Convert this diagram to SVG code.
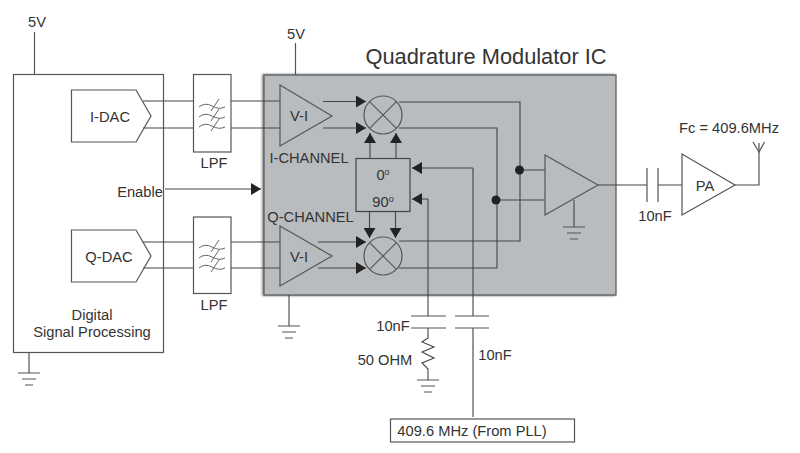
<svg xmlns="http://www.w3.org/2000/svg" width="800" height="453" viewBox="0 0 800 453">
<style>
text{font-family:"Liberation Sans",Arial,sans-serif;font-size:14.700px;fill:#333;text-anchor:middle}
.s{fill:none;stroke:#555;stroke-width:1.2}
.w{fill:#fff;stroke:#555;stroke-width:1.2}
.t{fill:#b9bcbe;stroke:#555;stroke-width:1.2}
.th{fill:none;stroke:#666;stroke-width:1}
.c{fill:none;stroke:#444;stroke-width:1.1}
</style>
<defs>
<marker id="a" markerUnits="userSpaceOnUse" markerWidth="11" markerHeight="12" refX="10" refY="6" orient="auto"><path d="M0 0L10 6L0 12z" fill="#222"/></marker>
<g id="gnd"><path class="s" d="M-11 0H11M-7 6H7M-4 12H4"/></g>
<g id="filt"><path class="th" d="M0 0q6-5 13-1t13 1M0 10q6-5 13-1t13 1M0 20q6-5 13-1t13 1M12 4L20-8M12 14L20 2M12 24L20 12"/></g>
<filter id="b" x="-5%" y="-5%" width="110%" height="110%"><feGaussianBlur stdDeviation="1.200"/></filter>
</defs>

<g id="ic-shadow"><rect x="262" y="74" width="353" height="222" fill="#888" filter="url(#b)"/></g>
<g id="quadrature-ic"><rect x="264" y="75" width="352" height="220" fill="#b9bcbe" stroke="#555" stroke-width="1.2"/>
<text x="486" y="64" style="font-size:21.800px">Quadrature Modulator IC</text></g>

<g id="connectors">
<path class="s" d="M34.500 32V74M295.500 43V75"/>
<path class="c" d="M143 101H193M143 128H193M231 101H280M231 128H280M143 242H193M143 268H193M231 242H280M231 268H280"/>
<path class="c" d="M323 101.500H366" marker-end="url(#a)"/>
<path class="c" d="M323 128H366" marker-end="url(#a)"/>
<path class="c" d="M318 242H366" marker-end="url(#a)"/>
<path class="c" d="M318 268H366" marker-end="url(#a)"/>
<path class="c" d="M370 158V133" marker-end="url(#a)"/>
<path class="c" d="M396 158V133" marker-end="url(#a)"/>
<path class="c" d="M369.500 211V238" marker-end="url(#a)"/>
<path class="c" d="M395.500 211V238" marker-end="url(#a)"/>
<path class="c" d="M399 102H520V241H399M399 128H497V268H399M520 170H545M497 200H545M598 185H647M658 185H682M735 185H759V143M574 200V227M289 295V326M29 352V373"/>
<path class="s" d="M647 168V202M658 168V202M753 142L759 152L764.500 142"/>
<path class="c" d="M165 189H261" marker-end="url(#a)"/>
<path class="c" d="M473 168H412" marker-end="url(#a)"/>
<path class="c" d="M428 199H412" marker-end="url(#a)"/>
<path class="c" d="M428 199V316M428 328V338L422 342L434 347L422 352L434 358L422 363L428 369V380"/>
<path class="c" d="M473 168V316M473 328V417"/>
<path class="s" d="M411 316H446M411 328H446M455 316H489M455 328H489"/>
<circle cx="519.500" cy="170" r="4.500" fill="#222"/>
<circle cx="496" cy="200" r="4.500" fill="#222"/>
<use href="#gnd" x="574" y="227"/><use href="#gnd" x="289" y="326"/><use href="#gnd" x="29" y="373"/><use href="#gnd" x="428" y="380"/>
</g>

<g id="dsp"><rect x="13.500" y="74.500" width="150" height="278" fill="none" stroke="#555" stroke-width="1.2"/>
<text x="92" y="320">Digital</text><text x="92" y="337">Signal Processing</text></g>
<g id="i-dac"><path class="s" d="M71.500 90H136L151 116L136 142H71.500z"/><text x="110" y="122">I-DAC</text></g>
<g id="q-dac"><path class="s" d="M71.500 230H136L151 256L136 282H71.500z"/><text x="109" y="262">Q-DAC</text></g>
<g id="lpf-i"><rect class="w" x="193.500" y="74.500" width="37.500" height="77.500"/><use href="#filt" x="199" y="107"/><text x="214" y="168">LPF</text></g>
<g id="lpf-q"><rect class="w" x="193.500" y="217" width="37.500" height="76.500"/><use href="#filt" x="199" y="248"/><text x="214" y="310">LPF</text></g>
<g id="vi-i"><path class="t" d="M280 85V146L332 116z"/><text x="299" y="121">V-I</text></g>
<g id="vi-q"><path class="t" d="M280 226V286L332 256z"/><text x="299" y="262">V-I</text></g>
<text x="309" y="162.500" id="i-channel">I-CHANNEL</text>
<text x="310.500" y="221.500" id="q-channel">Q-CHANNEL</text>
<g id="mixer-i"><circle class="t" cx="383" cy="115" r="19"/><path class="s" d="M369.600 101.600L396.400 128.400M396.400 101.600L369.600 128.400"/></g>
<g id="mixer-q"><circle class="t" cx="383" cy="256" r="19"/><path class="s" d="M369.600 242.600L396.400 269.400M396.400 242.600L369.600 269.400"/></g>
<g id="phase"><rect x="356" y="158.500" width="54" height="53" fill="#b9bcbe" stroke="#444" stroke-width="1.2"/>
<text x="383" y="180">0<tspan dy="-5" style="font-size:9px">o</tspan></text><text x="383" y="207">90<tspan dy="-5" style="font-size:9px">o</tspan></text></g>
<g id="amp"><path class="t" d="M545 155V215L598 185z"/></g>
<g id="pa"><path class="w" d="M682 154V215L735 185z"/><text x="705" y="191">PA</text></g>
<g id="labels">
<text x="37" y="27">5V</text><text x="296" y="39">5V</text>
<text x="140" y="197">Enable</text>
<text x="655" y="221">10nF</text>
<text x="729" y="133">Fc = 409.6MHz</text>
<text x="393" y="331">10nF</text>
<text x="385" y="365">50 OHM</text>
<text x="495" y="360">10nF</text>
</g>
<g id="pll"><rect x="390.500" y="419" width="184" height="23" fill="#fff" stroke="#555" stroke-width="1.2"/><text x="472" y="436">409.6 MHz (From PLL)</text></g>
</svg>
